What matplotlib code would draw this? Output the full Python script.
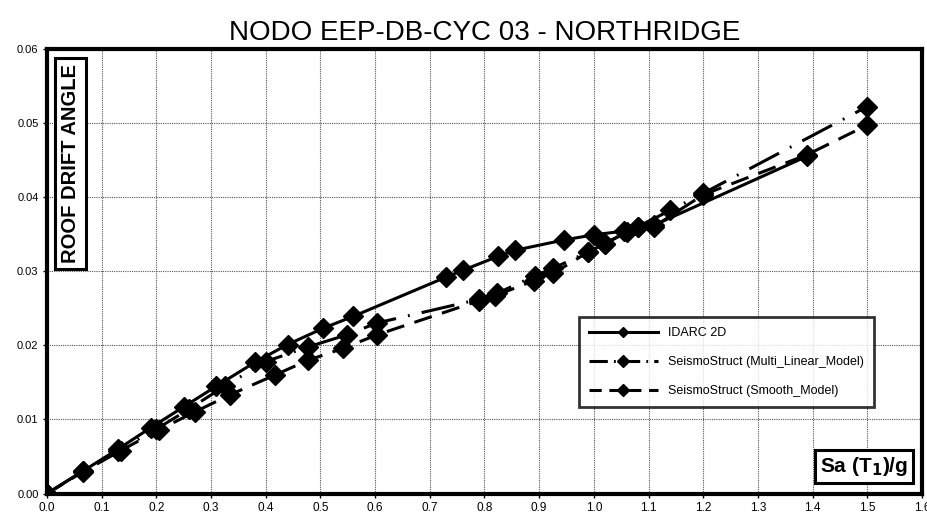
import matplotlib
matplotlib.use("Agg")
import matplotlib.pyplot as plt
from matplotlib.lines import Line2D

# ---- data ----
idarc_x = [0, 0.065, 0.13, 0.19, 0.25, 0.31, 0.38, 0.44, 0.505, 0.56, 0.73, 0.76, 0.825, 0.855, 0.945, 1.0, 1.055, 1.08, 1.11, 1.39]
idarc_y = [0, 0.0030, 0.0060, 0.0089, 0.0117, 0.0145, 0.0177, 0.0201, 0.0223, 0.0239, 0.0292, 0.0301, 0.0320, 0.0328, 0.0342, 0.0349, 0.0354, 0.0360, 0.0362, 0.0455]

multi_x = [0, 0.065, 0.13, 0.20, 0.26, 0.325, 0.40, 0.478, 0.548, 0.603, 0.79, 0.823, 0.893, 0.926, 0.99, 1.02, 1.08, 1.14, 1.20, 1.50]
multi_y = [0, 0.0030, 0.0058, 0.0087, 0.0114, 0.0145, 0.0178, 0.0198, 0.0214, 0.0230, 0.0262, 0.0270, 0.0294, 0.0304, 0.0326, 0.0337, 0.0360, 0.0382, 0.0405, 0.0522]

smooth_x = [0, 0.065, 0.135, 0.205, 0.27, 0.334, 0.417, 0.478, 0.542, 0.603, 0.79, 0.82, 0.89, 0.926, 0.99, 1.02, 1.06, 1.11, 1.20, 1.39, 1.50]
smooth_y = [0, 0.0029, 0.0058, 0.0086, 0.0110, 0.0133, 0.0160, 0.0180, 0.0196, 0.0214, 0.0260, 0.0267, 0.0287, 0.0297, 0.0326, 0.0337, 0.0353, 0.0360, 0.0403, 0.0457, 0.0497]

series_names = ["IDARC 2D", "SeismoStruct (Multi_Linear_Model)", "SeismoStruct (Smooth_Model)"]
title = "NODO EEP-DB-CYC 03 - NORTHRIDGE"
xticks = [round(0.1 * i, 1) for i in range(17)]
yticks = [0.00, 0.01, 0.02, 0.03, 0.04, 0.05, 0.06]

fam = ["Liberation Sans", "DejaVu Sans"]
plt.rcParams["font.family"] = fam

fig = plt.figure(figsize=(9.28, 5.18), dpi=100)
ax = fig.add_axes([0.0506, 0.0471, 0.9429, 0.8589])

lw = 2.2
ms = 10
ax.plot(idarc_x, idarc_y, color="black", lw=lw, marker="D", ms=ms, zorder=5)
ax.plot(multi_x, multi_y, color="black", lw=lw, marker="D", ms=ms,
        dashes=(11, 4, 0.6, 4), zorder=4)
ax.plot(smooth_x, smooth_y, color="black", lw=lw, marker="D", ms=ms,
        dashes=(6, 3.5), zorder=3)

ax.set_xlim(0, 1.6)
ax.set_ylim(0, 0.06)
ax.set_xticks(xticks)
ax.set_xticklabels([f"{v:.1f}" for v in xticks], fontsize=8.5)
ax.set_yticks(yticks)
ax.set_yticklabels([f"{v:.2f}" for v in yticks], fontsize=8)
ax.tick_params(length=3, width=1, pad=3)
ax.grid(True, color="#555555", ls=(0, (1, 1)), lw=0.8)
for s in ax.spines.values():
    s.set_linewidth(3)

ax.set_title(title, fontsize=20, pad=6)

ax.text(0.0265, 0.965, "ROOF DRIFT ANGLE", transform=ax.transAxes, rotation=90,
        ha="center", va="top", fontsize=14.5, fontweight="bold",
        bbox=dict(boxstyle="square,pad=0.3", fc="white", ec="black", lw=2.2))
ax.text(0.984, 0.035, r"Sa (T$_\mathbf{1}$)/g", transform=ax.transAxes,
        ha="right", va="bottom", fontsize=15, fontweight="bold",
        bbox=dict(boxstyle="square,pad=0.25", fc="white", ec="black", lw=2.2))

handles = [
    Line2D([], [], color="black", lw=lw, marker="D", ms=5),
    Line2D([], [], color="black", lw=lw, marker="D", ms=6, dashes=(6, 2, 0.6, 2)),
    Line2D([], [], color="black", lw=lw, marker="D", ms=6, dashes=(4, 2.5)),
]
leg = ax.legend(handles, series_names, loc="upper left", bbox_to_anchor=(0.601, 0.41),
                frameon=True, fancybox=False, edgecolor="black",
                handlelength=5.5, labelspacing=1.35, borderpad=0.8,
                prop={"family": fam, "size": 9})
leg.get_frame().set_linewidth(2)
leg.set_zorder(10)

fig.savefig("out.png", dpi=100)
